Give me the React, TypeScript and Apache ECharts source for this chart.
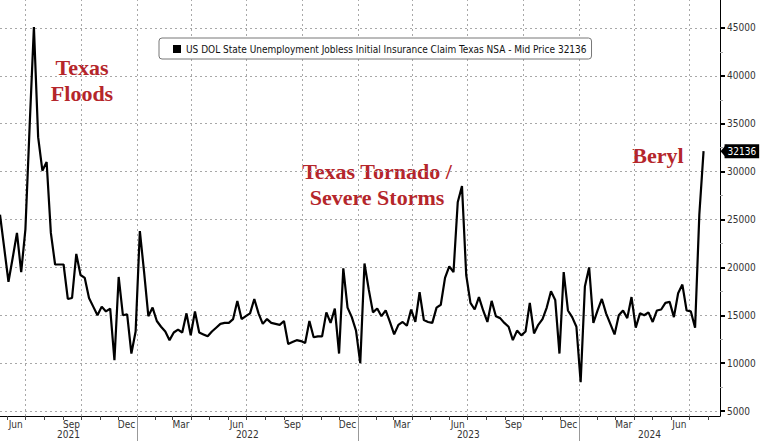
import React, { useEffect, useRef } from "react";
import * as echarts from "echarts";

const SERIES_NAME =
  "US DOL State Unemployment Jobless Initial Insurance Claim Texas NSA - Mid Price";

// weekly observations, first week 2021-05-20
const FIRST_WEEK = [2021, 4, 20];
const claims2021 = [
  25500, 22000, 18500, 21000, 23600, 19500, 24000, 34800, 45100, 33600, 30100,
  31000, 23600, 20300, 20300, 20300, 16700, 16800, 21400, 19200, 18900, 16800,
  15900, 15000, 15900, 15400, 15700, 10300, 19000, 15000, 15100, 11000, 13300,
];
const claims2022 = [
  23800, 19500, 14900, 15800, 14400, 13800, 13300, 12400, 13200, 13500, 13200,
  15200, 12900, 15400, 13200, 13000, 12800, 13300, 13700, 14100, 14200, 14200,
  14600, 16500, 14600, 14900, 15200, 16700, 15200, 14100, 14600, 14200, 14100,
  14000, 14400, 12000, 12200, 12400, 12300, 12100, 14400, 12700, 12800, 12800,
  15300, 14200, 15700, 11000, 19900, 15800, 14800, 13400,
];
const claims2023 = [
  10000, 20400, 17700, 15300, 15700, 14900, 15500, 14300, 13000, 14000, 14300,
  13900, 15600, 14300, 17400, 14500, 14300, 14200, 15800, 16100, 18900, 20100,
  19500, 26800, 28500, 19200, 16300, 15600, 16900, 15500, 14300, 16500, 14900,
  14700, 14200, 13800, 12400, 13400, 12900, 13300, 16300, 13100, 14000, 14600,
  15800, 17500, 16600, 11000, 19500, 15500, 14800, 13800,
];
const claims2024 = [
  8000, 18000, 20000, 14200, 15500, 16700, 15200, 14100, 13000, 15000, 15500,
  14700, 16900, 13700, 15200, 15000, 15300, 14300, 15500, 15600, 16300, 16400,
  14800, 17300, 18200, 15500, 15400, 13700, 25500, 32136,
];

const yTicks = [5000, 10000, 15000, 20000, 25000, 30000, 35000, 40000, 45000];
const yMinorTicks = [7500, 12500, 17500, 22500, 27500, 32500, 37500, 42500];
const MONTHS = ["Jan", "Feb", "Mar", "Apr", "May", "Jun", "Jul", "Aug", "Sep", "Oct", "Nov", "Dec"];
const labelledMonths = [2, 5, 8, 11];
const years = [2021, 2022, 2023, 2024];

const DAY = 86400000;
const FONT = '"DejaVu Sans Condensed", "DejaVu Sans", sans-serif';
const SERIF = '"Liberation Serif", "Times New Roman", serif';
const RED = "#b5262b";
const GRID_LINE = { color: "#a8a8a8", type: [2, 3], width: 1 };

export default function App() {
  const ref = useRef<HTMLDivElement>(null);

  useEffect(() => {
    document.body.style.margin = "0";
    if (!ref.current) return;
    const chart = echarts.init(ref.current, null, { renderer: "svg" });

    const values = [...claims2021, ...claims2022, ...claims2023, ...claims2024];
    const t0 = Date.UTC(FIRST_WEEK[0], FIRST_WEEK[1], FIRST_WEEK[2]);
    const dates = values.map((_, i) => t0 + i * 7 * DAY);
    const tMin = t0;
    const tMax = t0 + 1189.15 * DAY;
    const lastValue = values[values.length - 1];
    const lastDate = dates[dates.length - 1];

    const monthStarts: number[] = [];
    const quarterStarts: number[] = [];
    const monthMids: number[] = [];
    const yearStarts: number[] = [];
    for (const y of years) {
      for (let m = 0; m < 12; m++) {
        const s = Date.UTC(y, m, 1);
        if (s > tMin && s < tMax) {
          monthStarts.push(s);
          if (m % 3 === 0) quarterStarts.push(s);
          if (m === 0) yearStarts.push(s);
        }
        const mid = Date.UTC(y, m, 15);
        if (labelledMonths.includes(m) && mid > tMin && mid < tMax) monthMids.push(mid);
      }
    }
    const yearCenters = years.map((y) => {
      const a = Math.max(Date.UTC(y, 0, 1), tMin);
      const b = Math.min(Date.UTC(y + 1, 0, 1), tMax);
      return (a + b) / 2;
    });

    const Y_MIN = 4478;
    const Y_MAX = 47924;

    const xBase = { type: "value", min: tMin, max: tMax, position: "bottom", scale: true };

    const option: any = {
      animation: false,
      backgroundColor: "#fff",
      textStyle: { fontFamily: FONT },
      grid: { left: 0, right: 40, top: 0, bottom: 25, containLabel: false },
      legend: {
        show: true,
        left: 159,
        top: 38,
        z: 10,
        backgroundColor: "#fff",
        borderColor: "#777",
        borderWidth: 1,
        borderRadius: 3,
        padding: [6, 5, 5, 14],
        itemWidth: 8,
        itemHeight: 8,
        selectedMode: false,
        data: [{ name: SERIES_NAME, icon: "rect", itemStyle: { color: "#000" } }],
        formatter: (n: string) => n + " " + lastValue,
        textStyle: { fontFamily: FONT, fontSize: 10, color: "#111" },
      },
      xAxis: [
        {
          ...xBase,
          axisLine: { show: true, onZero: false, lineStyle: { color: "#000", width: 1 } },
          axisTick: { show: true, customValues: quarterStarts, length: 4, lineStyle: { color: "#444" } },
          axisLabel: {
            show: true,
            customValues: monthMids,
            formatter: (v: number) => MONTHS[new Date(v).getUTCMonth()],
            color: "#333",
            fontSize: 10,
            margin: 3,
            fontFamily: FONT,
          },
          splitLine: { show: false },
        },
        {
          ...xBase,
          axisLine: { show: false },
          axisTick: { show: true, customValues: monthStarts, length: 4, lineStyle: { color: "#444" } },
          axisLabel: { show: false },
          splitLine: { show: false },
        },
        {
          ...xBase,
          axisLine: { show: false },
          axisTick: { show: true, customValues: yearStarts, length: 25, lineStyle: { color: "#999" } },
          axisLabel: {
            show: true,
            customValues: yearCenters,
            formatter: (v: number) => String(new Date(v).getUTCFullYear()),
            color: "#333",
            fontSize: 10,
            margin: 13,
            fontFamily: FONT,
          },
          splitLine: { show: false },
        },
      ],
      yAxis: [
        {
          type: "value",
          position: "right",
          min: Y_MIN,
          max: Y_MAX,
          axisLine: { show: true, onZero: false, lineStyle: { color: "#000", width: 1 } },
          axisTick: { show: true, customValues: yTicks, length: 5, lineStyle: { color: "#000", width: 2 } },
          axisLabel: {
            show: true,
            customValues: yTicks,
            formatter: (v: number) => String(v),
            color: "#333",
            fontSize: 10,
            margin: 7,
            fontFamily: FONT,
          },
          splitLine: { show: false },
        },
        {
          type: "value",
          position: "right",
          min: Y_MIN,
          max: Y_MAX,
          axisLine: { show: false },
          axisTick: { show: true, customValues: yMinorTicks, length: 3, lineStyle: { color: "#aaa" } },
          axisLabel: { show: false },
          splitLine: { show: false },
        },
      ],
      series: [
        {
          type: "line",
          name: SERIES_NAME,
          xAxisIndex: 0,
          yAxisIndex: 0,
          z: 3,
          data: dates.map((d, i) => [d, values[i]]),
          showSymbol: false,
          symbol: "none",
          lineStyle: { color: "#000", width: 2.2 },
          itemStyle: { color: "#000" },
          endLabel: {
            show: true,
            formatter: () => String(lastValue),
            color: "#fff",
            backgroundColor: "#000",
            fontSize: 10,
            fontFamily: FONT,
            padding: [2, 3, 2, 3],
            distance: 21,
          },
          markLine: {
            z: 1,
            silent: true,
            symbol: "none",
            animation: false,
            label: { show: false },
            lineStyle: GRID_LINE,
            emphasis: { disabled: true, lineStyle: GRID_LINE },
            data: [
              ...yTicks.map((v) => ({ yAxis: v })),
              ...quarterStarts.map((v) => ({ xAxis: v })),
            ],
          },
          markPoint: {
            silent: true,
            symbol: "triangle",
            symbolSize: [14, 6],
            symbolRotate: 90,
            symbolOffset: [20, 0],
            itemStyle: { color: "#000" },
            label: { show: false },
            data: [{ coord: [lastDate, lastValue] }],
          },
        },
      ],
      graphic: [
        {
          type: "group",
          left: 162,
          top: 45,
          z: 20,
          children: [
            { type: "rect", shape: { x: 0, y: 0, width: 6, height: 6 }, style: { fill: "#fff", stroke: "#999", lineWidth: 1 } },
            { type: "line", shape: { x1: 1.5, y1: 3, x2: 4.5, y2: 3 }, style: { stroke: "#999", lineWidth: 1 } },
          ],
        },
        {
          type: "text",
          x: 82,
          y: 80,
          style: {
            text: "Texas\nFloods",
            fill: RED,
            fontFamily: SERIF,
            fontWeight: "bold",
            fontSize: 22,
            lineHeight: 26,
            textAlign: "center",
            textVerticalAlign: "middle",
          },
        },
        {
          type: "text",
          x: 377,
          y: 184,
          style: {
            text: "Texas Tornado /\nSevere Storms",
            fill: RED,
            fontFamily: SERIF,
            fontWeight: "bold",
            fontSize: 22,
            lineHeight: 26,
            textAlign: "center",
            textVerticalAlign: "middle",
          },
        },
        {
          type: "text",
          x: 658,
          y: 155,
          style: {
            text: "Beryl",
            fill: RED,
            fontFamily: SERIF,
            fontWeight: "bold",
            fontSize: 22,
            textAlign: "center",
            textVerticalAlign: "middle",
          },
        },
      ],
    };

    chart.setOption(option);
    return () => chart.dispose();
  }, []);

  return <div ref={ref} style={{ width: 760, height: 441 }} />;
}
